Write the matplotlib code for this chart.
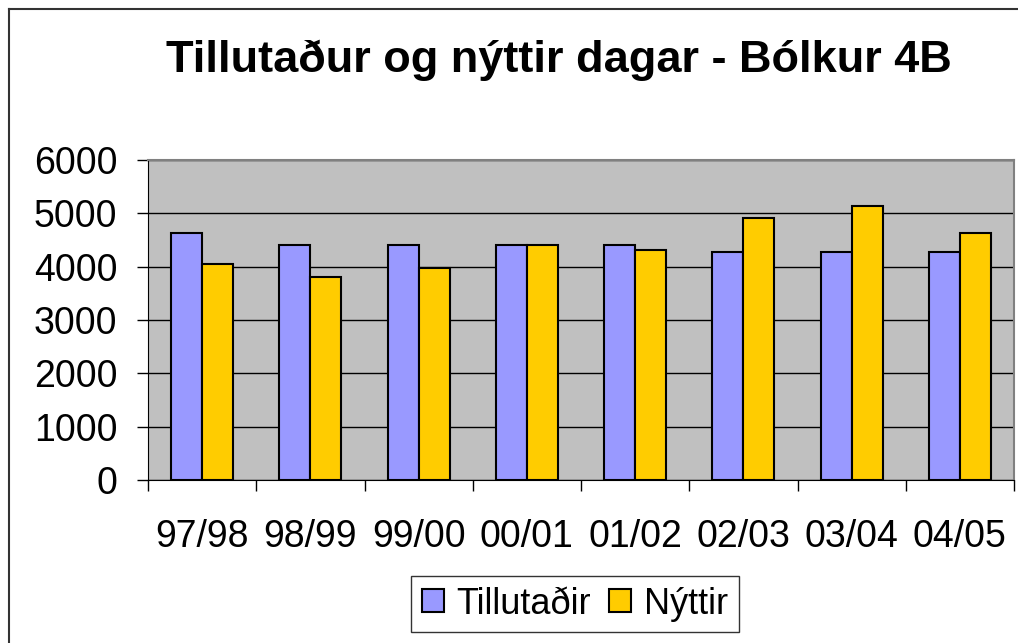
import numpy as np
import matplotlib.pyplot as plt
from matplotlib.lines import Line2D

plt.rcParams['font.family'] = ['Liberation Sans', 'DejaVu Sans']

seasons = ["97/98", "98/99", "99/00", "00/01", "01/02", "02/03", "03/04", "04/05"]
tillutadir = [4640, 4410, 4410, 4410, 4410, 4275, 4275, 4275]
nyttir = [4050, 3805, 3980, 4410, 4310, 4920, 5145, 4640]
yticks = [0, 1000, 2000, 3000, 4000, 5000, 6000]

fig = plt.figure(figsize=(10.18, 6.43), dpi=100)
ax = fig.add_axes([148 / 1018, 1 - 480 / 643, (1014 - 148) / 1018, 320 / 643])
ax.set_facecolor('#C0C0C0')

x = np.arange(len(seasons))
w = 0.286
ax.bar(x - w / 2, tillutadir, w, color='#9999FF', edgecolor='black', linewidth=1.5,
       label='Tillutaðir', zorder=3)
ax.bar(x + w / 2, nyttir, w, color='#FFCC00', edgecolor='black', linewidth=1.5,
       label='Nýttir', zorder=3)

ax.set_xlim(-0.5, len(seasons) - 0.5)
ax.set_ylim(0, 6000)
ax.set_yticks(yticks)
ax.tick_params(axis='y', labelsize=27, length=8, width=1, pad=14)
ax.yaxis.grid(True, color='black', linewidth=1, zorder=1)

# category boundaries as ticks, labels at centres
ax.set_xticks(np.arange(-0.5, len(seasons), 1.0))
ax.set_xticklabels([])
ax.tick_params(axis='x', which='major', length=8, width=1)
ax.set_xticks(x, minor=True)
ax.set_xticklabels(seasons, minor=True)
ax.tick_params(axis='x', which='minor', length=0, labelsize=27, pad=28)

for side in ['top', 'right']:
    ax.spines[side].set_color('#808080')
    ax.spines[side].set_linewidth(1.5)
ax.spines['left'].set_color('black')
ax.spines['bottom'].set_color('black')

fig.suptitle("Tillutaður og nýttir dagar - Bólkur 4B", fontsize=32.5, fontweight='bold',
             x=559 / 1018, y=1 - 60 / 643, va='center')

leg = fig.legend(loc='center', bbox_to_anchor=(575 / 1018, 1 - 604 / 643), ncol=2,
                 fontsize=26, frameon=True, fancybox=False, edgecolor='black',
                 handlelength=0.6, handleheight=0.6, handletextpad=0.35,
                 columnspacing=0.5, borderpad=0.3, borderaxespad=0)
leg.get_frame().set_linewidth(1)

# outer chart frame (left and top edges visible)
fig.add_artist(Line2D([8.5 / 1018, 8.5 / 1018], [0, 1 - 8.5 / 643], color='#333333', linewidth=1.5))
fig.add_artist(Line2D([8.5 / 1018, 1], [1 - 8.5 / 643, 1 - 8.5 / 643], color='#333333', linewidth=1.5))

fig.savefig("out.png", dpi=100)
